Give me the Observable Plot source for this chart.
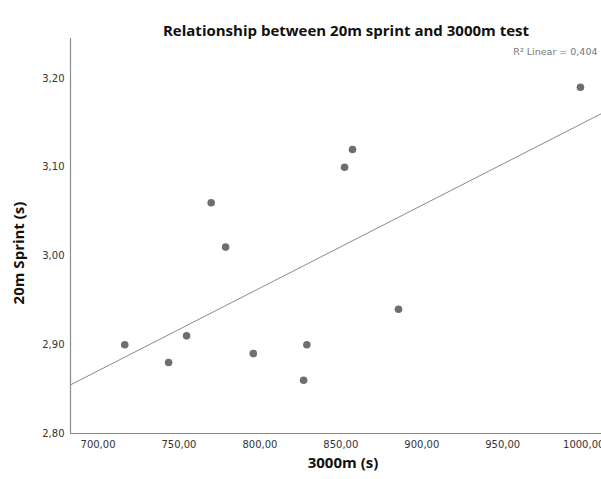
<!DOCTYPE html>
<html>
<head>
<meta charset="utf-8">
<script src="https://cdn.jsdelivr.net/npm/d3@7"></script>
<script src="https://cdn.jsdelivr.net/npm/@observablehq/plot@0.6"></script>
<style>
  html, body { margin: 0; padding: 0; background: #fff; }
  #chart svg { display: block; }
</style>
</head>
<body>
<div id="chart"></div>
<script>
// Data
const run3000 = [716.5, 743.6, 754.7, 769.9, 778.8, 795.9, 827.0, 829.0, 852.3, 857.2, 885.6, 998.0];
const sprint20 = [2.90, 2.88, 2.91, 3.06, 3.01, 2.89, 2.86, 2.90, 3.10, 3.12, 2.94, 3.19];
const xTicks = [700, 750, 800, 850, 900, 950, 1000];
const yTicks = [2.80, 2.90, 3.00, 3.10, 3.20];
const titleText = "Relationship between 20m sprint and 3000m test";
const xTitle = "3000m (s)";
const yTitle = "20m Sprint (s)";
const r2Label = "R² Linear = 0,404";
const xDomain = [683, 1011];
const yDomain = [2.80, 3.245];

const data = run3000.map((x, i) => ({x, y: sprint20[i]}));

// least-squares fit
const mx = d3.mean(run3000), my = d3.mean(sprint20);
const sxy = d3.sum(data, d => (d.x - mx) * (d.y - my));
const sxx = d3.sum(data, d => (d.x - mx) ** 2);
const slope = sxy / sxx;
const intercept = my - slope * mx;
const fit = xDomain.map(x => ({x, y: intercept + slope * x}));

const fmt = v => d3.format(".2f")(v).replace(".", ",");
const font = "DejaVu Sans, sans-serif";
const titleFont = "Open Sans, sans-serif";
const axisColor = "#8c8c8c";

const chart = Plot.plot({
  width: 601,
  height: 479,
  marginTop: 38,
  marginLeft: 70,
  marginRight: 0,
  marginBottom: 46,
  style: {fontFamily: font, fontSize: "10px", color: "#333", background: "#fff"},
  x: {domain: xDomain, ticks: xTicks, tickFormat: fmt, tickSize: 0, tickPadding: 7, label: null},
  y: {domain: yDomain, ticks: yTicks, tickFormat: fmt, tickSize: 0, tickPadding: 6, label: null},
  marks: [
    Plot.line(fit, {x: "x", y: "y", stroke: "#8a8a8a", strokeWidth: 1, clip: true}),
    Plot.dot(data, {x: "x", y: "y", r: 3.8, fill: "#6e6e6e", stroke: "none"}),
    Plot.ruleX([xDomain[0]], {stroke: axisColor, strokeWidth: 1.2}),
    Plot.ruleY([yDomain[0]], {stroke: axisColor, strokeWidth: 1.2}),
    Plot.text([titleText], {frameAnchor: "top", textAnchor: "middle", dy: -13, dx: 10, fontWeight: "bold", fontSize: 15, fill: "#111", fontFamily: titleFont}),
    Plot.text([r2Label], {frameAnchor: "top-right", dy: 10, dx: -4, textAnchor: "end", fontSize: 9.5, fill: "#777"}),
    Plot.text([xTitle], {frameAnchor: "bottom", textAnchor: "middle", dy: 34, dx: 7, fontWeight: "bold", fontSize: 15, fill: "#111", fontFamily: titleFont}),
    Plot.text([yTitle], {frameAnchor: "left", textAnchor: "middle", dx: -51, dy: 17, rotate: -90, fontWeight: "bold", fontSize: 15, fill: "#111", fontFamily: titleFont})
  ]
});
document.getElementById("chart").appendChild(chart);
</script>
</body>
</html>
